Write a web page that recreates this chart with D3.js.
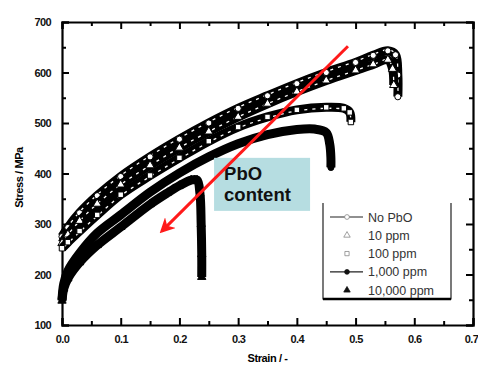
<!DOCTYPE html>
<html>
<head>
<meta charset="utf-8">
<script src="https://cdn.jsdelivr.net/npm/d3@7"></script>
<style>
  body { margin: 0; background: #fff; }
  text { font-family: "Liberation Sans", Arial, sans-serif; }
</style>
</head>
<body>
<div id="chart"></div>
<script>
// values: [strain, stress MPa]
var noPbO = [[0,275],[0.01,293],[0.03,322],[0.06,356],[0.1,394],[0.15,433],[0.2,468],[0.25,500],[0.3,529],[0.35,554],[0.4,578],[0.45,600],[0.5,620],[0.53,634],[0.555,643],[0.568,635],[0.572,595],[0.572,552]];
var ppm10 = [[0,262],[0.01,279],[0.03,306],[0.06,340],[0.1,378],[0.15,416],[0.2,451],[0.25,483],[0.3,512],[0.35,538],[0.4,562],[0.45,584],[0.5,604],[0.53,616],[0.555,625],[0.563,607],[0.565,575]];
var ppm100 = [[0,252],[0.01,264],[0.03,286],[0.06,318],[0.1,358],[0.15,396],[0.2,431],[0.25,464],[0.3,492],[0.35,512],[0.4,526],[0.45,531],[0.48,529],[0.49,521],[0.492,502]];
var ppm1000 = [[0,150],[0.003,182],[0.01,207],[0.03,242],[0.06,282],[0.1,318],[0.15,363],[0.2,401],[0.25,433],[0.3,459],[0.35,477],[0.4,487],[0.43,488],[0.45,481],[0.456,458],[0.458,430],[0.458,412]];
var ppm10000 = [[0,148],[0.003,172],[0.01,192],[0.03,224],[0.06,258],[0.1,294],[0.15,339],[0.18,362],[0.2,376],[0.22,387],[0.23,387],[0.235,360],[0.237,300],[0.238,240],[0.238,195]];

var seriesNames = ["No PbO", "10 ppm", "100 ppm", "1,000 ppm", "10,000 ppm"];
var seriesData = [noPbO, ppm10, ppm100, ppm1000, ppm10000];
var seriesSymbols = ["circle", "triangle", "square", "circle", "triangle"];
var seriesOpen = [true, true, true, false, false];
var seriesLegendLine = [true, false, false, true, false];

var xTicks = [0, 0.1, 0.2, 0.3, 0.4, 0.5, 0.6, 0.7];
var yTicks = [100, 200, 300, 400, 500, 600, 700];

// annotation arrow, in data units
var arrowFrom = [0.487, 652];
var arrowTo = [0.170, 286];
var boxCorners = [[0.259, 431], [0.4225, 326]];

var width = 478, height = 365;
var margin = {left: 62, right: 5, top: 22, bottom: 40};

var svg = d3.select("#chart").append("svg")
  .attr("width", width)
  .attr("height", height);

var x = d3.scaleLinear().domain([0, 0.7]).range([margin.left, width - margin.right]);
var y = d3.scaleLinear().domain([100, 700]).range([height - margin.bottom, margin.top]);

var fmt = d3.format(".1f");
var minorX = d3.range(0.05, 0.7, 0.1);
var minorY = d3.range(150, 700, 100);

// axes on all four sides, ticks pointing inwards
function frameAxis(axis, tr, minorVals, major) {
  var g = svg.append("g").attr("transform", tr);
  g.call(axis.tickValues(major).tickSize(-7).tickPadding(10));
  g.append("g").call(axis.tickValues(minorVals).tickSize(-4).tickFormat(""))
    .select(".domain").remove();
  g.selectAll(".domain").attr("stroke", "#000").attr("stroke-width", 2.2);
  g.selectAll(".tick line").attr("stroke", "#000").attr("stroke-width", 2);
  return g;
}

var gx = frameAxis(d3.axisBottom(x).tickFormat(fmt), "translate(0," + y(100) + ")", minorX, xTicks);
var gy = frameAxis(d3.axisLeft(y).tickFormat(d3.format("d")), "translate(" + x(0) + ",0)", minorY, yTicks);
var gt = frameAxis(d3.axisTop(x).tickFormat(""), "translate(0," + y(700) + ")", minorX, xTicks);
var gr = frameAxis(d3.axisRight(y).tickFormat(""), "translate(" + x(0.7) + ",0)", minorY, yTicks);

svg.selectAll(".tick text")
  .attr("fill", "#111")
  .style("font-size", "11px")
  .style("font-weight", "bold")
  .style("letter-spacing", "-0.6px");
gy.selectAll(".tick text").attr("dx", "-1");
// last x label sits at the very edge, as in the original
gx.selectAll(".tick text").filter(function(d) { return d == 0.7; }).attr("dx", "-2");

// axis titles
svg.append("text")
  .attr("x", (x(0) + x(0.7)) / 2)
  .attr("y", 362)
  .attr("text-anchor", "middle")
  .style("font-size", "11px")
  .style("font-weight", "bold")
  .style("letter-spacing", "-0.4px")
  .text("Strain / -");

svg.append("text")
  .attr("transform", "translate(23," + ((y(100) + y(700)) / 2 + 4) + ") rotate(-90)")
  .attr("text-anchor", "middle")
  .style("font-size", "11px")
  .style("font-weight", "bold")
  .style("letter-spacing", "-0.4px")
  .text("Stress / MPa");

// the curves: dense markers in the original show up as thick bands
var line = d3.line()
  .x(function(d) { return x(d[0]); })
  .y(function(d) { return y(d[1]); })
  .curve(d3.curveCatmullRom.alpha(0.5));

function symbolFor(i, size) {
  var type = seriesSymbols[i] == "circle" ? d3.symbolCircle :
             seriesSymbols[i] == "triangle" ? d3.symbolTriangle : d3.symbolSquare;
  return d3.symbol().type(type).size(size)();
}

var plot = svg.append("g");
seriesData.forEach(function(data, i) {
  plot.append("path")
    .attr("d", line(data))
    .attr("fill", "none")
    .attr("stroke", "#000")
    .attr("stroke-width", 9)
    .attr("stroke-linejoin", "round");
  if (seriesOpen[i]) {
    // hatched look of the open-symbol series
    plot.append("path")
      .attr("d", line(data))
      .attr("fill", "none")
      .attr("stroke", "#fff")
      .attr("stroke-width", 1.3)
      .attr("stroke-dasharray", "3,5")
      .attr("stroke-dashoffset", i * 2)
      .attr("transform", "translate(0," + (i - 1) + ")");
  }
  plot.selectAll(".m" + i)
    .data(data)
    .enter()
    .append("path")
    .attr("class", "m" + i)
    .attr("transform", function(d) { return "translate(" + x(d[0]) + "," + y(d[1]) + ")"; })
    .attr("d", symbolFor(i, 30))
    .attr("fill", seriesOpen[i] ? "#fff" : "#000")
    .attr("stroke", "#000")
    .attr("stroke-width", 1);
});

// PbO content box
svg.append("rect")
  .attr("x", x(boxCorners[0][0]))
  .attr("y", y(boxCorners[0][1]))
  .attr("width", x(boxCorners[1][0]) - x(boxCorners[0][0]))
  .attr("height", y(boxCorners[1][1]) - y(boxCorners[0][1]))
  .attr("fill", "#b6dde1");

svg.append("text")
  .attr("x", x(boxCorners[0][0]) + 10)
  .attr("y", y(boxCorners[0][1]) + 22)
  .style("font-size", "18.5px")
  .style("font-weight", "bold")
  .attr("fill", "#111")
  .text("PbO");
svg.append("text")
  .attr("x", x(boxCorners[0][0]) + 10)
  .attr("y", y(boxCorners[0][1]) + 43)
  .style("font-size", "18.5px")
  .style("font-weight", "bold")
  .attr("fill", "#111")
  .text("content");

// red arrow
svg.append("defs").append("marker")
  .attr("id", "head")
  .attr("viewBox", "0 0 10 10")
  .attr("refX", 8).attr("refY", 5)
  .attr("markerWidth", 5).attr("markerHeight", 5)
  .attr("orient", "auto")
  .append("path")
  .attr("d", "M0,0 L10,5 L0,10 L3,5 Z")
  .attr("fill", "#ff1a1a");

svg.append("line")
  .attr("x1", x(arrowFrom[0])).attr("y1", y(arrowFrom[1]))
  .attr("x2", x(arrowTo[0])).attr("y2", y(arrowTo[1]))
  .attr("stroke", "#ff1a1a")
  .attr("stroke-width", 3)
  .attr("marker-end", "url(#head)");

// legend
var legend = svg.append("g").attr("transform", "translate(323,203)");
legend.append("path")
  .attr("d", "M0,0 V96 H128 V0")
  .attr("fill", "none")
  .attr("stroke", "#222")
  .attr("stroke-width", 1.2);
legend.append("line")
  .attr("x1", 0).attr("x2", 128).attr("y1", 96).attr("y2", 96)
  .attr("stroke", "#000").attr("stroke-width", 2.5);

var rows = legend.selectAll(".row")
  .data(seriesNames)
  .enter()
  .append("g")
  .attr("class", "row")
  .attr("transform", function(d, i) { return "translate(0," + (14 + i * 18.3) + ")"; });

rows.filter(function(d, i) { return seriesLegendLine[i]; })
  .append("line")
  .attr("x1", 7).attr("x2", 40)
  .attr("stroke", "#222").attr("stroke-width", 1.2);

rows.append("path")
  .attr("transform", "translate(24,0)")
  .attr("d", function(d, i) { return symbolFor(i, 18); })
  .attr("fill", function(d, i) { return seriesOpen[i] ? "#fff" : "#111"; })
  .attr("stroke", function(d, i) { return seriesOpen[i] ? "#888" : "#111"; })
  .attr("stroke-width", 0.8);

rows.append("text")
  .attr("x", 45)
  .attr("y", 4.5)
  .style("font-size", "12.5px")
  .attr("fill", "#333")
  .text(function(d) { return d; });
</script>
</body>
</html>
